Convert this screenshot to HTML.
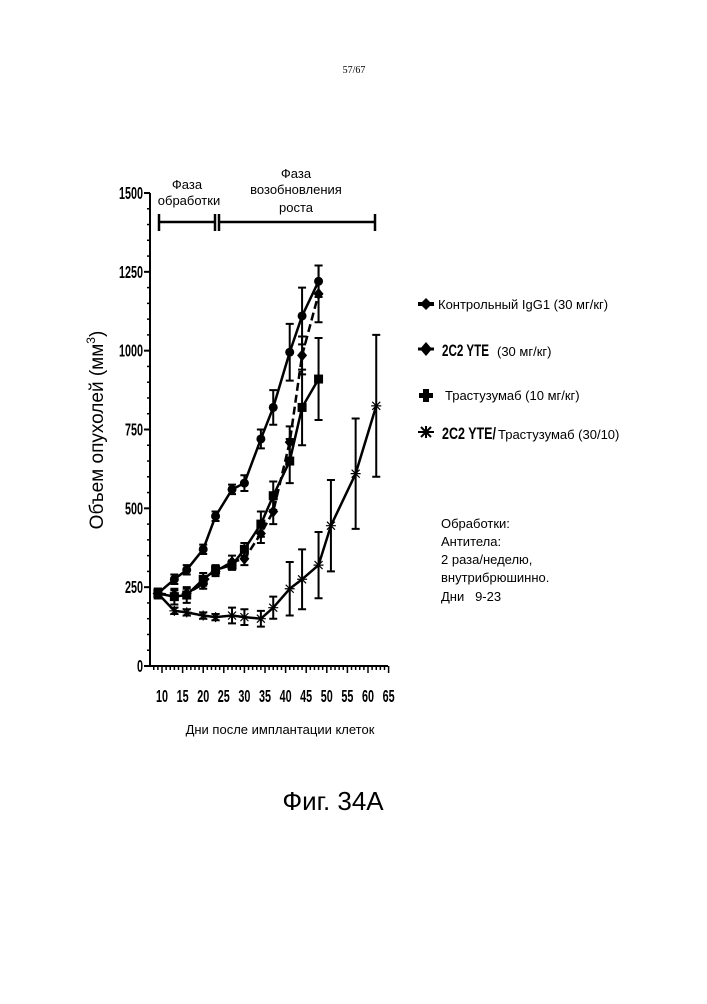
<!DOCTYPE html>
<html><head><meta charset="utf-8"><style>
body{margin:0;background:#fff;}
svg text{font-family:"Liberation Sans",sans-serif;fill:#000;}
</style></head><body>
<svg width="707" height="999" viewBox="0 0 707 999" xmlns="http://www.w3.org/2000/svg">
<text x="354" y="73" font-size="10" text-anchor="middle" style="font-family:'Liberation Serif',serif">57/67</text>
<g id="chart"></g>
<text transform="translate(103,430) rotate(-90)" font-size="19" text-anchor="middle">Объем опухолей (мм<tspan font-size="12" dy="-8">3</tspan><tspan dy="8">)</tspan></text>
<text x="280" y="734" font-size="13" text-anchor="middle">Дни после имплантации клеток</text>
<g font-size="13">
<text x="187" y="189" text-anchor="middle">Фаза</text>
<text x="189" y="205" text-anchor="middle">обработки</text>
<text x="296" y="178" text-anchor="middle">Фаза</text>
<text x="296" y="194" text-anchor="middle">возобновления</text>
<text x="296" y="212" text-anchor="middle">роста</text>
</g>
<g stroke="#000" stroke-width="2.5" fill="none">
<line x1="159" y1="222" x2="215" y2="222"/><line x1="159" y1="214" x2="159" y2="231"/>
<line x1="215" y1="214" x2="215" y2="231"/><line x1="219" y1="214" x2="219" y2="231"/>
<line x1="219" y1="222" x2="375" y2="222"/><line x1="375" y1="214" x2="375" y2="231"/>
</g>
<g font-size="13">
<g><path d="M420,304 l6,-6 l6,6 l-6,6z" fill="#000"/><rect x="418" y="302" width="16" height="4"/><text x="438" y="309">Контрольный IgG1 (30 мг/кг)</text></g>
<g><path d="M420,349 l6,-7 l6,7 l-6,7z" fill="#000"/><rect x="418" y="347.5" width="16" height="3"/><text x="442" y="356" font-weight="bold" font-size="17" textLength="47" lengthAdjust="spacingAndGlyphs">2C2 YTE</text><text x="497" y="356">(30 мг/кг)</text></g>
<g><rect x="419" y="393" width="14" height="5"/><rect x="423" y="389" width="6" height="13"/><text x="445" y="400">Трастузумаб (10 мг/кг)</text></g>
<g><path d="M418,432 h16 M426,426 v12 M421,427 l10,10 M431,427 l-10,10" stroke="#000" stroke-width="2"/><text x="442" y="439" font-weight="bold" font-size="17" textLength="54" lengthAdjust="spacingAndGlyphs">2C2 YTE/</text><text x="498" y="439">Трастузумаб (30/10)</text></g>
</g>
<g font-size="13">
<text x="441" y="528">Обработки:</text><text x="441" y="546">Антитела:</text><text x="441" y="564">2 раза/неделю,</text><text x="441" y="582">внутрибрюшинно.</text><text x="441" y="601">Дни&#160;&#160;&#160;9-23</text>
</g>
<text x="333" y="810" font-size="26" text-anchor="middle">Фиг. 34А</text>
</svg>
<script>
const yTicks=[0,250,500,750,1000,1250,1500];
const xTicks=[10,15,20,25,30,35,40,45,50,55,60,65];
const days=[9,13,16,20,23,27,30,34,37,41,44,48];
const dayCombo=[9,13,16,20,23,27,30,34,37,41,44,48,51,57,62];
const igg1=[230,275,305,370,475,560,580,720,820,995,1110,1220];
const igg1Err=[15,15,15,15,15,15,25,30,55,90,90,50];
const yte=[230,225,230,260,300,330,340,420,490,710,985,1180];
const yteErr=[15,15,15,15,15,20,20,30,40,50,60,90];
const tras=[230,220,225,275,305,320,370,450,540,650,820,910];
const trasErr=[15,25,25,20,15,15,20,40,45,70,120,130];
const combo=[230,175,170,160,155,160,155,150,185,245,275,320,445,610,825];
const comboErr=[15,10,10,10,10,25,25,25,35,85,95,105,145,175,225];
const NS="http://www.w3.org/2000/svg";
const g=document.getElementById('chart');
const X=d=>162+(d-10)*4.12;
const Y=v=>666-v*(473/1500);
function el(t,a,p){const e=document.createElementNS(NS,t);for(const k in a)e.setAttribute(k,a[k]);(p||g).appendChild(e);return e;}
const ax=el('g',{stroke:'#000','stroke-width':2});


el('line',{x1:150,y1:Y(1500),x2:150,y2:666},ax);
el('line',{x1:150,y1:666,x2:388,y2:666},ax);
for(let v=0;v<=1500;v+=50){el('line',{x1:v%250==0?144:147,y1:Y(v),x2:150,y2:Y(v),'stroke-width':v%250==0?2:1.5},ax);}
for(let d=8;d<=65;d++){el('line',{x1:X(d),y1:666,x2:X(d),y2:d%5==0?673:670,'stroke-width':1.5},ax);}
yTicks.forEach(v=>{const t=el('text',{x:143,y:Y(v)+6,'font-size':18,'font-weight':'bold','text-anchor':'end',transform:`translate(143,0) scale(0.6,1) translate(-143,0)`});t.textContent=v;

});
xTicks.forEach(d=>{const t=el('text',{x:X(d),y:702,'font-size':18,'font-weight':'bold','text-anchor':'middle',transform:`translate(${X(d)},0) scale(0.6,1) translate(${-X(d)},0)`});t.textContent=d;

});
function series(name,ds,vals,errs,marker,dash){
 const s=el('g',{});
 
 
 el('polyline',{points:ds.map((d,i)=>X(d)+','+Y(vals[i])).join(' '),fill:'none',stroke:'#000','stroke-width':2.5,'stroke-dasharray':dash||'none'},s);
 ds.forEach((d,i)=>{const x=X(d),v=vals[i],e=errs[i];
  el('path',{d:`M${x},${Y(v+e)}V${Y(v-e)}M${x-4},${Y(v+e)}h8M${x-4},${Y(v-e)}h8`,stroke:'#000','stroke-width':2,fill:'none'},s);
  const y=Y(v);
  if(marker=='c')el('circle',{cx:x,cy:y,r:4.5},s);
  else if(marker=='d')el('path',{d:`M${x-5},${y}l5,-6l5,6l-5,6z`},s);
  else if(marker=='s')el('rect',{x:x-4.5,y:y-4.5,width:9,height:9},s);
  else el('path',{d:`M${x-5},${y}h10M${x},${y-5}v10M${x-4},${y-4}l8,8M${x+4},${y-4}l-8,8`,stroke:'#000','stroke-width':1.2},s);
 });
}
series('series-igg1',days,igg1,igg1Err,'c');
series('series-2c2-yte',days,yte,yteErr,'d','8,4');
series('series-trastuzumab',days,tras,trasErr,'s');
series('series-combo',dayCombo,combo,comboErr,'x');
</script>
</body></html>
